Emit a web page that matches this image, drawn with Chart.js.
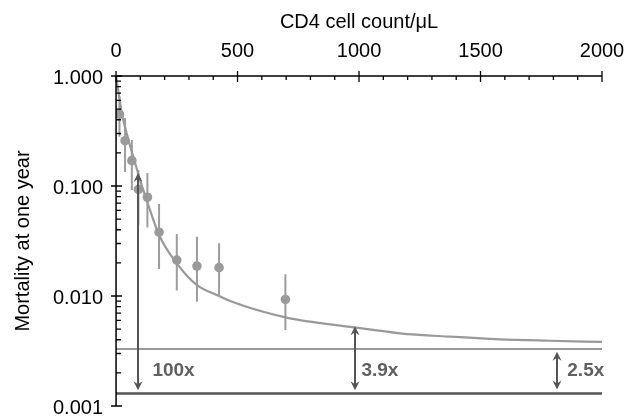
<!DOCTYPE html>
<html><head><meta charset="utf-8">
<script src="https://cdn.jsdelivr.net/npm/chart.js@4/dist/chart.umd.min.js"></script>
<style>html,body{margin:0;padding:0;background:#fff}#wrap{width:626px;height:419px}</style>
</head><body><div id="wrap"><canvas id="c" width="626" height="419"></canvas></div>
<script>
// ---- data ----
const cd4 = [14, 37, 65, 92, 129, 177, 250, 333, 424, 697];
const mortality = [0.449, 0.258, 0.170, 0.093, 0.079, 0.038, 0.0212, 0.0187, 0.0181, 0.0093];
const errHigh = [0.65, 0.415, 0.262, 0.14, 0.131, 0.0686, 0.0366, 0.0346, 0.0301, 0.0158];
const errLow = [0.28, 0.134, 0.092, 0.044, 0.042, 0.0176, 0.0112, 0.00888, 0.0102, 0.0049];
const fitX = [0, 24, 51, 75, 99, 126, 177, 250, 332, 424, 469, 697, 979, 1169, 1374, 1580, 1786, 2000];
const fitY = [1.0, 0.458, 0.262, 0.172, 0.113, 0.0746, 0.0359, 0.0198, 0.0126, 0.0100, 0.0090, 0.0064, 0.00519, 0.00458, 0.00427, 0.00404, 0.00392, 0.00382];
const refLevels = [0.0033, 0.0013];
const refRange = [0, 2000];
const arrowX = [92, 985, 1816];
const arrowFrom = [0.131, 0.0053, 0.00312];
const arrowTo = [0.00139, 0.00139, 0.00141];
const arrowLabels = ['100x', '3.9x', '2.5x'];
const xTicks = [0, 500, 1000, 1500, 2000];
const xTickLabels = ['0', '500', '1000', '1500', '2000'];
const yTicks = [0.001, 0.01, 0.1, 1];
const yTickLabels = ['0.001', '0.010', '0.100', '1.000'];
const xMinorStep = 100;
const yMinorMult = [2, 3, 4, 5, 6, 7, 8, 9];

// ---- styles ----
const FONT = 'Liberation Sans, Arial, sans-serif';
const labelDx = [14, 6, 10];
const labelYValue = 0.0021;

const axisPlugin = {
  id: 'axes',
  afterDraw(chart) {
    const ctx = chart.ctx, xs = chart.scales.x, ys = chart.scales.y, a = chart.chartArea;
    ctx.save();
    ctx.strokeStyle = '#000'; ctx.lineWidth = 1.5;
    ctx.beginPath();
    ctx.moveTo(a.left, a.top); ctx.lineTo(a.right, a.top);
    ctx.moveTo(a.left, a.top); ctx.lineTo(a.left, a.bottom);
    ctx.stroke();
    ctx.lineWidth = 1.3;
    ctx.beginPath();
    xTicks.forEach(v => { const p = xs.getPixelForValue(v); ctx.moveTo(p, a.top - 5); ctx.lineTo(p, a.top + 6); });
    for (let v = xMinorStep; v < 2000; v += xMinorStep) {
      if (xTicks.includes(v)) continue;
      const p = xs.getPixelForValue(v); ctx.moveTo(p, a.top); ctx.lineTo(p, a.top + 4);
    }
    yTicks.forEach(v => { const p = ys.getPixelForValue(v); ctx.moveTo(a.left - 5, p); ctx.lineTo(a.left + 6, p); });
    yTicks.slice(0, 3).forEach(d => yMinorMult.forEach(m => {
      const p = ys.getPixelForValue(d * m); ctx.moveTo(a.left, p); ctx.lineTo(a.left + 5, p);
    }));
    ctx.stroke();
    ctx.restore();
  }
};

const errorPlugin = {
  id: 'errbars',
  beforeDatasetsDraw(chart) {
    const ctx = chart.ctx, xs = chart.scales.x, ys = chart.scales.y;
    ctx.save();
    ctx.strokeStyle = '#9c9c9c'; ctx.lineWidth = 2;
    ctx.beginPath();
    cd4.forEach((x, i) => {
      const px = xs.getPixelForValue(x);
      ctx.moveTo(px, ys.getPixelForValue(errHigh[i]));
      ctx.lineTo(px, ys.getPixelForValue(errLow[i]));
    });
    ctx.stroke();
    ctx.restore();
  }
};

function head(ctx, x, y, dir) {
  ctx.beginPath();
  ctx.moveTo(x, y);
  ctx.lineTo(x - 4.5, y + dir * 9);
  ctx.lineTo(x, y + dir * 6);
  ctx.lineTo(x + 4.5, y + dir * 9);
  ctx.closePath();
  ctx.fill();
}

const arrowPlugin = {
  id: 'arrows',
  afterDatasetsDraw(chart) {
    const ctx = chart.ctx, xs = chart.scales.x, ys = chart.scales.y;
    ctx.save();
    ctx.strokeStyle = '#555'; ctx.fillStyle = '#555'; ctx.lineWidth = 2;
    arrowX.forEach((x, i) => {
      const px = Math.round(xs.getPixelForValue(x));
      const y1 = ys.getPixelForValue(arrowFrom[i]);
      const y2 = ys.getPixelForValue(arrowTo[i]);
      ctx.beginPath(); ctx.moveTo(px, y1 + 3); ctx.lineTo(px, y2 - 3); ctx.stroke();
      head(ctx, px, y1, 1);
      head(ctx, px, y2, -1);
    });
    ctx.fillStyle = '#606060';
    ctx.font = 'bold 19px ' + FONT;
    ctx.textBaseline = 'middle'; ctx.textAlign = 'left';
    const ly = ys.getPixelForValue(labelYValue);
    arrowLabels.forEach((t, i) => {
      ctx.fillText(t, xs.getPixelForValue(arrowX[i]) + labelDx[i], ly);
    });
    ctx.restore();
  }
};

const tickFont = { family: FONT, size: 20 };
function zeroPad(s) { s.paddingLeft = 0; s.paddingRight = 0; s.paddingTop = 0; s.paddingBottom = 0; }

new Chart(document.getElementById('c'), {
  type: 'scatter',
  data: {
    datasets: [
      { type: 'line', data: fitX.map((x, i) => ({ x, y: fitY[i] })), borderColor: '#999', borderWidth: 2.2,
        pointRadius: 0, cubicInterpolationMode: 'monotone', fill: false },
      { type: 'line', data: refRange.map(x => ({ x, y: refLevels[0] })), borderColor: '#9a9a9a', borderWidth: 2, pointRadius: 0 },
      { type: 'line', data: refRange.map(x => ({ x, y: refLevels[1] })), borderColor: '#555', borderWidth: 2.5, pointRadius: 0 },
      { data: cd4.map((x, i) => ({ x, y: mortality[i] })), backgroundColor: '#9a9a9a', borderWidth: 0, pointRadius: 4.8 }
    ]
  },
  options: {
    responsive: false, animation: false,
    layout: { padding: { left: 0, right: 24, top: 0, bottom: 13 } },
    plugins: { legend: { display: false }, tooltip: { enabled: false } },
    scales: {
      x: {
        type: 'linear', position: 'top', min: 0, max: 2000,
        afterBuildTicks: s => { s.ticks = xTicks.map(v => ({ value: v })); },
        afterFit: s => { s.height = 76; zeroPad(s); },
        grid: { display: false, drawTicks: false }, border: { display: false },
        ticks: { font: tickFont, color: '#000', padding: 13, maxRotation: 0,
                 callback: (v, i) => xTickLabels[i] },
        title: { display: true, text: 'CD4 cell count/\u03bcL', font: tickFont, color: '#000', padding: { top: 10, bottom: 0 } }
      },
      y: {
        type: 'logarithmic', min: 0.001, max: 1,
        afterBuildTicks: s => { s.ticks = yTicks.map(v => ({ value: v })); },
        afterFit: s => { zeroPad(s); },
        grid: { display: false, drawTicks: false }, border: { display: false },
        ticks: { font: tickFont, color: '#000', padding: 13, labelOffset: 2, callback: (v, i) => yTickLabels[i] },
        title: { display: true, text: 'Mortality at one year', font: tickFont, color: '#000', padding: { top: 11, bottom: 5 } }
      }
    }
  },
  plugins: [errorPlugin, arrowPlugin, axisPlugin]
});
</script></body></html>
